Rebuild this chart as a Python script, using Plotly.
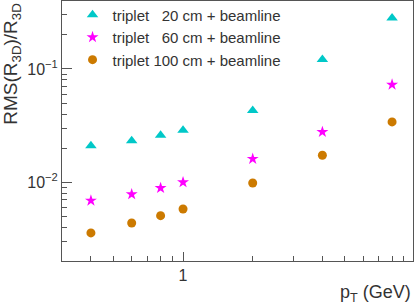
import plotly.graph_objects as go

pt = [0.4, 0.6, 0.8, 1, 2, 4, 8]
rms_20 = [0.0210, 0.0233, 0.0260, 0.0288, 0.0429, 0.121, 0.282]
rms_60 = [0.00689, 0.00784, 0.0089, 0.0100, 0.0161, 0.0278, 0.0727]
rms_100 = [0.00357, 0.00437, 0.00507, 0.00581, 0.00986, 0.0173, 0.0341]

names = ["triplet\u00a0\u00a0\u00a020 cm + beamline",
         "triplet\u00a0\u00a0\u00a060 cm + beamline",
         "triplet 100 cm + beamline"]

x_major = [1]
x_major_text = ["1"]
x_minor = [0.3, 0.4, 0.5, 0.6, 0.7, 0.8, 0.9, 2, 3, 4, 5, 6, 7, 8, 9]
y_major = [0.01, 0.1]
y_major_text = ["10<sup>\u22122</sup>", "10<sup>\u22121</sup>"]
y_minor = [0.003, 0.004, 0.005, 0.006, 0.007, 0.008, 0.009,
           0.02, 0.03, 0.04, 0.05, 0.06, 0.07, 0.08, 0.09, 0.2, 0.3]

X_RANGE = [-0.5229, 0.9935]
Y_RANGE = [-2.695, -0.4]

FONT = "Liberation Sans"
TXT = "#333333"
AX = "#555555"

fig = go.Figure()
fig.add_trace(go.Scatter(x=pt, y=rms_20, mode="markers", name=names[0],
                         marker=dict(symbol="triangle-up", size=10, color="#00C8C8")))
fig.add_trace(go.Scatter(x=pt, y=rms_60, mode="markers", name=names[1],
                         marker=dict(symbol="star", size=9, color="#FF00FF")))
fig.add_trace(go.Scatter(x=pt, y=rms_100, mode="markers", name=names[2],
                         marker=dict(symbol="circle", size=9, color="#CC7A00")))

fig.update_layout(
    width=415, height=306,
    margin=dict(l=62, r=2, t=1, b=45, autoexpand=False),
    paper_bgcolor="white", plot_bgcolor="rgba(0,0,0,0)",
    font=dict(family=FONT, color=TXT, size=14),
    legend=dict(x=0.03, y=1.01, xanchor="left", yanchor="top",
                bgcolor="rgba(255,255,255,0)",
                font=dict(family=FONT, size=15, color=TXT)),
    xaxis=dict(type="log", range=X_RANGE, automargin=False,
               showline=True, linecolor=AX, linewidth=1, mirror=True,
               showgrid=False, zeroline=False,
               ticks="inside", ticklen=9, tickcolor=AX, tickwidth=1,
               tickvals=x_major, ticktext=x_major_text,
               tickfont=dict(size=16, family=FONT, color=TXT),
               minor=dict(tickvals=x_minor, ticks="inside", ticklen=5,
                          tickcolor=AX, tickwidth=1, showgrid=False)),
    yaxis=dict(type="log", range=Y_RANGE, automargin=False,
               showline=True, linecolor=AX, linewidth=1, mirror=True,
               showgrid=False, zeroline=False,
               ticks="inside", ticklen=10, tickcolor=AX, tickwidth=1,
               tickvals=y_major, ticktext=y_major_text,
               tickfont=dict(size=16, family=FONT, color=TXT),
               minor=dict(tickvals=y_minor, ticks="inside", ticklen=5,
                          tickcolor=AX, tickwidth=1, showgrid=False)),
)

fig.add_annotation(text="RMS(R<sub>3D</sub>)/R<sub>3D</sub>", xref="paper", yref="paper",
                   x=-0.183, y=1.0, xanchor="left", yanchor="top", textangle=-90,
                   showarrow=False, font=dict(size=19, family=FONT, color=TXT))
fig.add_annotation(text="p<sub>T</sub> (GeV)", xref="paper", yref="paper",
                   x=1.0, y=-0.072, xanchor="right", yanchor="top",
                   showarrow=False, font=dict(size=18, family=FONT, color=TXT))

fig.write_html("out.html", post_script="document.body.style.margin='0';",
               config={"displayModeBar": False})
